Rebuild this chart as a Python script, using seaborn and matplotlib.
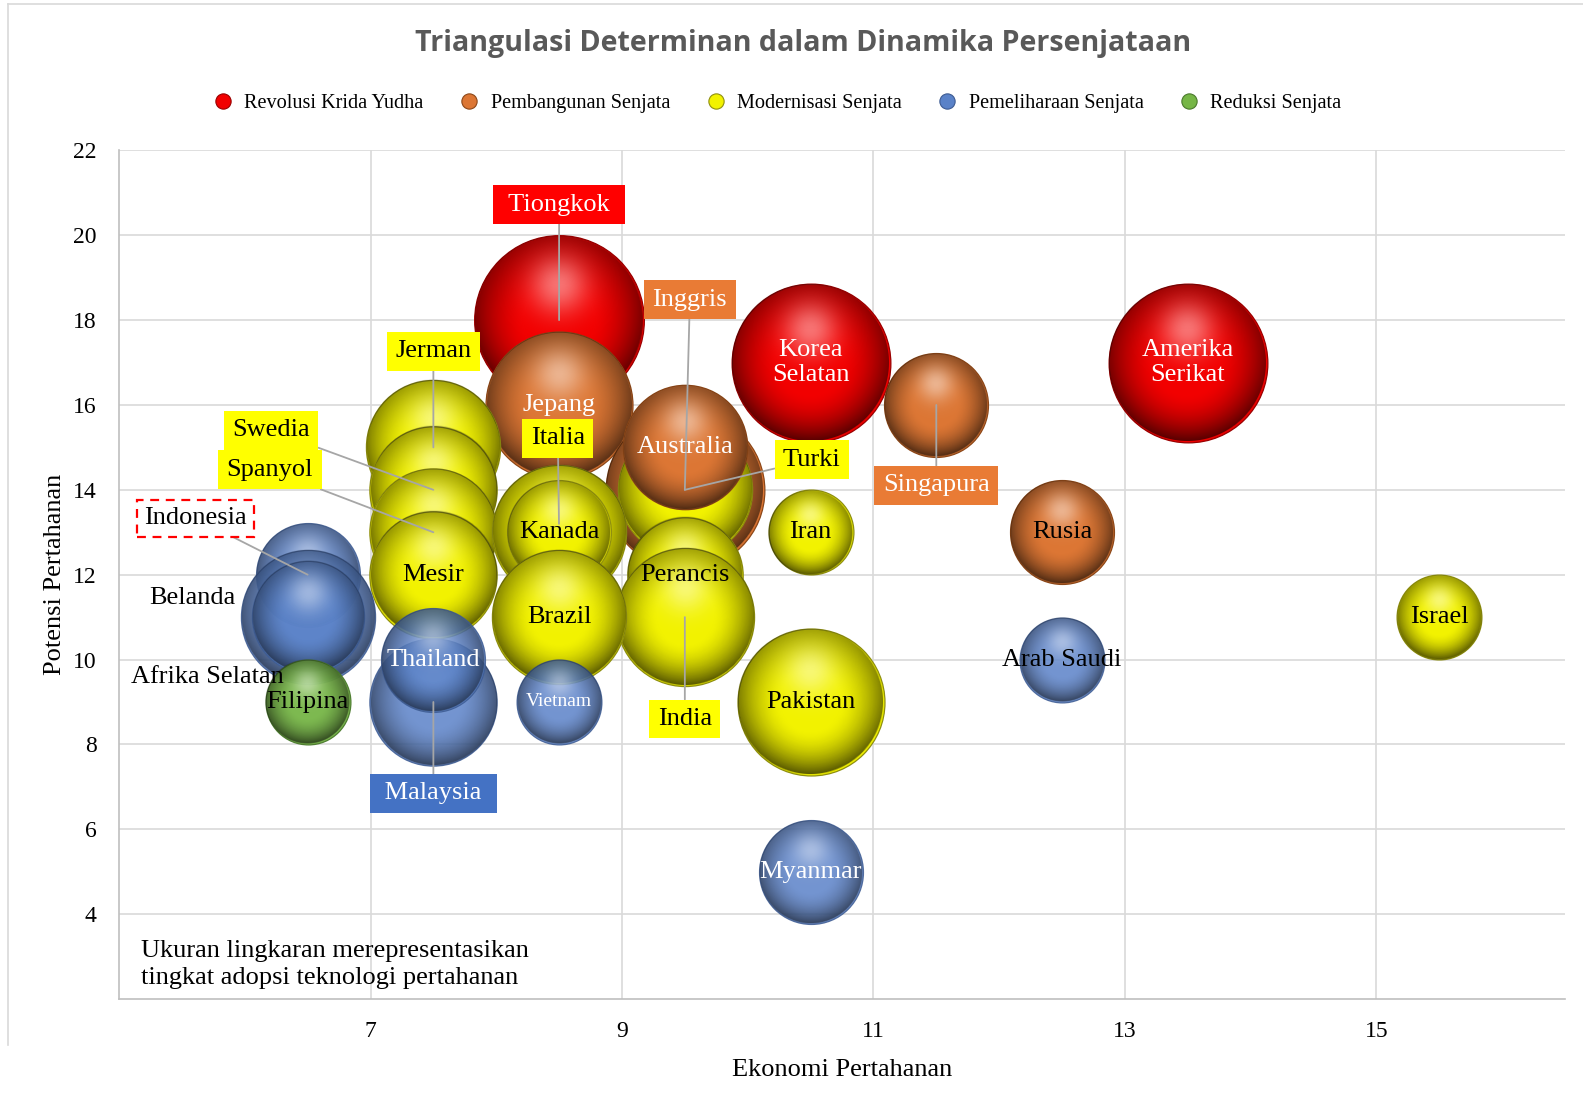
import numpy as np
import pandas as pd
import seaborn as sns
import matplotlib.pyplot as plt
from matplotlib.lines import Line2D

# Data
negara = ['Tiongkok', 'Jepang', 'Korea Selatan', 'Amerika Serikat', 'Inggris', 'Turki',
          'Australia', 'Singapura', 'Rusia', 'Iran', 'Jerman', 'Swedia', 'Spanyol', 'Mesir',
          'Italia', 'Kanada', 'Perancis', 'India', 'Brazil', 'Pakistan', 'Israel', 'Malaysia',
          'Thailand', 'Vietnam', 'Myanmar', 'Arab Saudi', 'Indonesia', 'Belanda',
          'Afrika Selatan', 'Filipina']
ekonomi = [8.5, 8.5, 10.5, 13.5, 9.5, 9.5,
           9.5, 11.5, 12.5, 10.5, 7.5, 7.5, 7.5, 7.5,
           8.5, 8.5, 9.5, 9.5, 8.5, 10.5, 15.5, 7.5,
           7.5, 8.5, 10.5, 12.5, 6.5, 6.5,
           6.5, 6.5]
potensi = [18, 16, 17, 17, 14, 14,
           15, 16, 13, 13, 15, 14, 13, 12,
           13, 13, 12, 11, 11, 9, 11, 9,
           10, 9, 5, 10, 12, 11,
           11, 9]
adopsi = [8, 6, 7, 7, 7, 5,
          4.3, 3, 3, 2, 5, 4.5, 4.5, 4.5,
          5, 3, 3.7, 5.3, 5, 6, 2, 4.5,
          3, 2, 3, 2, 3, 5,
          3.5, 2]
kategori = ['Revolusi Krida Yudha', 'Pembangunan Senjata', 'Revolusi Krida Yudha', 'Revolusi Krida Yudha',
            'Pembangunan Senjata', 'Modernisasi Senjata', 'Pembangunan Senjata', 'Pembangunan Senjata',
            'Pembangunan Senjata', 'Modernisasi Senjata', 'Modernisasi Senjata', 'Modernisasi Senjata',
            'Modernisasi Senjata', 'Modernisasi Senjata', 'Modernisasi Senjata', 'Modernisasi Senjata',
            'Modernisasi Senjata', 'Modernisasi Senjata', 'Modernisasi Senjata', 'Modernisasi Senjata',
            'Modernisasi Senjata', 'Pemeliharaan Senjata', 'Pemeliharaan Senjata', 'Pemeliharaan Senjata',
            'Pemeliharaan Senjata', 'Pemeliharaan Senjata', 'Pemeliharaan Senjata', 'Pemeliharaan Senjata',
            'Pemeliharaan Senjata', 'Reduksi Senjata']

kat_urut = ['Revolusi Krida Yudha', 'Pembangunan Senjata', 'Modernisasi Senjata',
            'Pemeliharaan Senjata', 'Reduksi Senjata']
warna = ['#f20000', '#dc7634', '#f2f200', '#5a82c8', '#76b646']
tepi = ['#9a0000', '#8c4718', '#8f8f10', '#3d5b92', '#4a7a2c']
transp = [1.0, 1.0, 1.0, 0.85, 0.95]

x_ticks = [7, 9, 11, 13, 15]
y_ticks = [4, 6, 8, 10, 12, 14, 16, 18, 20, 22]

# callout labels: name, label x, label y, box colour, text colour
callout = [('Tiongkok', 8.5, 20.72, '#ff0000', 'white'),
           ('Inggris', 9.54, 18.48, '#e97b35', 'white'),
           ('Jerman', 7.5, 17.27, '#ffff00', 'black'),
           ('Swedia', 6.21, 15.40, '#ffff00', 'black'),
           ('Spanyol', 6.20, 14.47, '#ffff00', 'black'),
           ('Italia', 8.49, 15.21, '#ffff00', 'black'),
           ('Turki', 10.51, 14.71, '#ffff00', 'black'),
           ('Singapura', 11.5, 14.11, '#e97b35', 'white'),
           ('India', 9.5, 8.60, '#ffff00', 'black'),
           ('Malaysia', 7.5, 6.85, '#4472c4', 'white'),
           ('Indonesia', 5.61, 13.33, 'white', 'black')]
box_lebar = ['Tiongkok', 'Malaysia']
label_kiri = [('Belanda', 5.58, 11.45), ('Afrika Selatan', 5.70, 9.58)]
teks_putih = ['Jepang', 'Australia', 'Korea Selatan', 'Amerika Serikat', 'Thailand',
              'Vietnam', 'Myanmar']

df = pd.DataFrame({'negara': negara, 'ekonomi': ekonomi, 'potensi': potensi,
                   'adopsi': adopsi, 'kategori': kategori})
palet = dict(zip(kat_urut, warna))
palet_tepi = dict(zip(kat_urut, tepi))
palet_alpha = dict(zip(kat_urut, transp))

plt.rcParams['font.family'] = ['Liberation Serif', 'DejaVu Serif']

fig = plt.figure(figsize=(15.83, 11.04), dpi=100)
ax = fig.add_axes([0.0752, 0.0951, 0.9134, 0.7687])
ax.set_xlim(5, 16.5)
ax.set_ylim(2, 22)

K = 1866  # marker area (pt^2) per unit of adopsi
ppu_x = ax.bbox.width / 11.5
ppu_y = ax.bbox.height / 20.0


def bola(n=160):
    # light/shadow overlay that makes a flat disc look like a sphere
    t = np.linspace(-1, 1, n)
    u, v = np.meshgrid(t, t)
    d = np.sqrt(u ** 2 + v ** 2)
    hl = np.exp(-(u ** 2 + (v - 0.42) ** 2) / (2 * 0.24 ** 2)) * 0.45
    sh = np.clip((d - 0.4) / 0.6, 0, 1) ** 1.6 * 0.5 * (1 + 0.3 * (-v))
    sh = np.clip(sh, 0, 0.7)
    a = hl + sh * (1 - hl)
    g = hl / np.maximum(a, 1e-6)
    rim = np.clip((1 - d) * n / 2, 0, 1)
    return np.dstack([g, g, g, a * rim])


img = bola()

for i in range(len(df)):
    kat = df.kategori[i]
    z = 2 + i * 0.1
    sns.scatterplot(data=df.iloc[[i]], x='ekonomi', y='potensi', hue='kategori',
                    palette=palet, hue_order=kat_urut, size='adopsi', sizes=(0, 8 * K),
                    size_norm=(0, 8), edgecolor=palet_tepi[kat], linewidth=0.9,
                    alpha=palet_alpha[kat], legend=False, zorder=z, ax=ax)
    r = np.sqrt(K * df.adopsi[i]) * fig.dpi / 144
    rx, ry = r / ppu_x, r / ppu_y
    cx, cy = df.ekonomi[i], df.potensi[i]
    im = img.copy()
    im[..., 3] *= palet_alpha[kat]
    ax.imshow(im, extent=[cx - rx, cx + rx, cy - ry, cy + ry], origin='lower',
              aspect='auto', interpolation='bilinear', zorder=z + 0.05)

pos = {n: (x, y) for n, x, y in zip(negara, ekonomi, potensi)}

# callouts with leader lines
for nama, tx, ty, fc, tc in callout:
    if nama == 'Indonesia':
        box = dict(boxstyle='square,pad=0.28', fc='white', ec='#ff0000', lw=1.6, ls=(0, (4, 3)))
    else:
        box = dict(boxstyle='square,pad=0.32', fc=fc, ec='none')
    teks = ' ' + nama + ' ' if nama in box_lebar else nama
    ax.annotate(teks, xy=pos[nama], xytext=(tx, ty), ha='center', va='center',
                fontsize=19, color=tc, bbox=box, zorder=40,
                arrowprops=dict(arrowstyle='-', color='#a6a6a6', lw=1.3, shrinkA=0,
                                shrinkB=6 if nama == 'Italia' else 0))

nama_callout = [c[0] for c in callout] + [c[0] for c in label_kiri]
for nama in negara:
    if nama in nama_callout:
        continue
    x, y = pos[nama]
    teks = nama.replace(' ', '\n') if nama in ('Korea Selatan', 'Amerika Serikat') else nama
    ax.text(x, y, teks, ha='center', va='center', fontsize=14 if nama == 'Vietnam' else 19,
            color='white' if nama in teks_putih else 'black', linespacing=1.2, zorder=40)

for nama, tx, ty in label_kiri:
    ax.text(tx, ty, nama, ha='center', va='center', fontsize=19, color='black', zorder=40)

ax.set_xlim(5, 16.5)
ax.set_ylim(2, 22)
ax.set_xticks(x_ticks)
ax.set_yticks(y_ticks)
ax.tick_params(length=0, labelsize=17, pad=16)
ax.grid(True, color='#d9d9d9', lw=1.2)
ax.set_axisbelow(True)
for s in ['top', 'right']:
    ax.spines[s].set_visible(False)
for s in ['left', 'bottom']:
    ax.spines[s].set_color('#bfbfbf')
    ax.spines[s].set_linewidth(1.2)
ax.set_xlabel('Ekonomi Pertahanan', fontsize=19, labelpad=12)
ax.set_ylabel('Potensi Pertahanan', fontsize=19, labelpad=5)

ax.text(0.0152, 0.070, 'Ukuran lingkaran merepresentasikan\ntingkat adopsi teknologi pertahanan',
        transform=ax.transAxes, ha='left', va='top', fontsize=19, linespacing=1.3, zorder=40)

fig.text(0.507, 0.961, 'Triangulasi Determinan dalam Dinamika Persenjataan', ha='center',
         va='center', fontsize=20.6, fontweight='bold', color='#595959', family='Open Sans')

handles = [Line2D([0], [0], marker='o', ls='', markersize=11, markerfacecolor=c,
                  markeredgecolor=e, markeredgewidth=0.8) for c, e in zip(warna, tepi)]
fig.legend(handles, kat_urut, loc='center', bbox_to_anchor=(0.491, 0.906), ncol=5,
           frameon=False, fontsize=14.6, handlelength=1.0, handletextpad=0.55, columnspacing=1.75)

# light chart border
fig.add_artist(Line2D([8 / 1583, 1], [1 - 4 / 1104, 1 - 4 / 1104], color='#d9d9d9', lw=1.2))
fig.add_artist(Line2D([8 / 1583, 8 / 1583], [1 - 4 / 1104, 1 - 1045 / 1104], color='#d9d9d9', lw=1.2))

fig.savefig('out.png', dpi=100)
